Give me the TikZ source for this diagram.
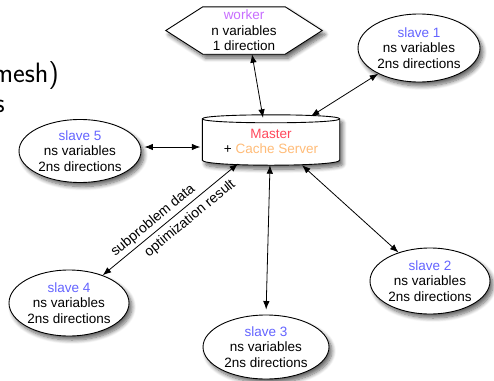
\documentclass[tikz,border=0pt]{standalone}
\usepackage{fontspec}
\setmainfont{Liberation Sans}
\usetikzlibrary{arrows.meta,shadows.blur,backgrounds,shapes.geometric}
\definecolor{workerc}{RGB}{200,110,255}
\definecolor{slavec}{RGB}{100,100,255}
\definecolor{masterc}{RGB}{255,72,92}
\definecolor{cachec}{RGB}{255,188,120}
\begin{document}
\begin{tikzpicture}[x=1pt,y=-1pt,
  every node/.style={font=\fontsize{13.5}{15.5}\selectfont, align=center, text=black},
  shadowed/.style={blur shadow={shadow xshift=3pt,shadow yshift=-4pt,shadow blur radius=4pt,shadow blur steps=8,shadow opacity=60}},
  slavebox/.style={ellipse, draw, line width=0.9pt, fill=white, inner sep=0pt, shadowed},
  plainbox/.style={rectangle, inner sep=0pt},
  outline/.style={draw, line width=0.9pt, fill=white, shadowed},
  arr/.style={{Latex[length=8.5pt,width=6.5pt]}-{Latex[length=8.5pt,width=6.5pt]}, line width=0.8pt},
  lbl/.style={sloped, inner sep=0pt, font=\fontsize{14}{16}\selectfont},
  bigtext/.style={font=\sffamily\fontsize{28}{28}\selectfont, inner sep=0pt}
]
\useasboundingbox (0,0) rectangle (494,380);

% cropped slide text
\node[bigtext, anchor=base east] (big1) at (59,82) {mesh)};
\node[bigtext, anchor=base east] (big2) at (5,112) {s};

% nodes
\node[plainbox, minimum width=156pt, minimum height=47pt] (worker) at (244,30.5)
  {\textcolor{workerc}{worker}\\n variables\\1 direction};
\node[plainbox, minimum width=137pt, minimum height=50pt] (master) at (271,141.5)
  {\textcolor{masterc}{Master}\\+ \textcolor{cachec}{Cache Server}};
\node[slavebox, minimum width=122pt, minimum height=68pt] (slave1) at (419,48)
  {\textcolor{slavec}{slave 1}\\ns variables\\2ns directions};
\node[slavebox, minimum width=120pt, minimum height=66pt] (slave2) at (430,281)
  {\textcolor{slavec}{slave 2}\\ns variables\\2ns directions};
\node[slavebox, minimum width=126pt, minimum height=64pt] (slave3) at (266,347)
  {\textcolor{slavec}{slave 3}\\ns variables\\2ns directions};
\node[slavebox, minimum width=120pt, minimum height=66pt] (slave4) at (69,303)
  {\textcolor{slavec}{slave 4}\\ns variables\\2ns directions};
\node[slavebox, minimum width=122pt, minimum height=63pt] (slave5) at (80,151)
  {\textcolor{slavec}{slave 5}\\ns variables\\2ns directions};

% shapes behind text
\begin{scope}[on background layer]
\draw[outline] (worker.west) -- ([xshift=37pt]worker.north west) -- ([xshift=-37pt]worker.north east)
  -- (worker.east) -- ([xshift=-37pt]worker.south east) -- ([xshift=37pt]worker.south west) -- cycle;
\draw[outline] ([yshift=-2.5pt]master.north west) -- ([yshift=6.5pt]master.south west)
  .. controls +(0,6.67) and +(0,6.67) .. ([yshift=6.5pt]master.south east)
  -- ([yshift=-2.5pt]master.north east)
  .. controls +(0,-5.33) and +(0,-5.33) .. ([yshift=-2.5pt]master.north west) -- cycle;
\draw[line width=0.9pt] ([yshift=-2.5pt]master.north west)
  .. controls +(0,5.33) and +(0,5.33) .. ([yshift=-2.5pt]master.north east);
\end{scope}

% connectors
\draw[arr] ([xshift=8pt]worker.south) -- ([xshift=-8pt,yshift=-1.5pt]master.north);
\draw[arr] (master) -- (slave1);
\draw[arr] ([xshift=3pt,yshift=4pt]slave5.east) -- ([xshift=-2pt,yshift=-5.5pt]master.west);
\draw[arr] (slave4) -- ([xshift=-33pt,yshift=3pt]master.south)
  node[lbl, pos=0.42, above=3pt] (lsub) {subproblem data}
  node[lbl, pos=0.59, below=5pt] (lopt) {optimization result};
\draw[arr, shorten <=5pt] (slave3.north) -- ([xshift=-1pt,yshift=1.5pt]master.south);
\draw[arr] (slave2) -- ([xshift=31pt,yshift=1.5pt]master.south);
\end{tikzpicture}
\end{document}
